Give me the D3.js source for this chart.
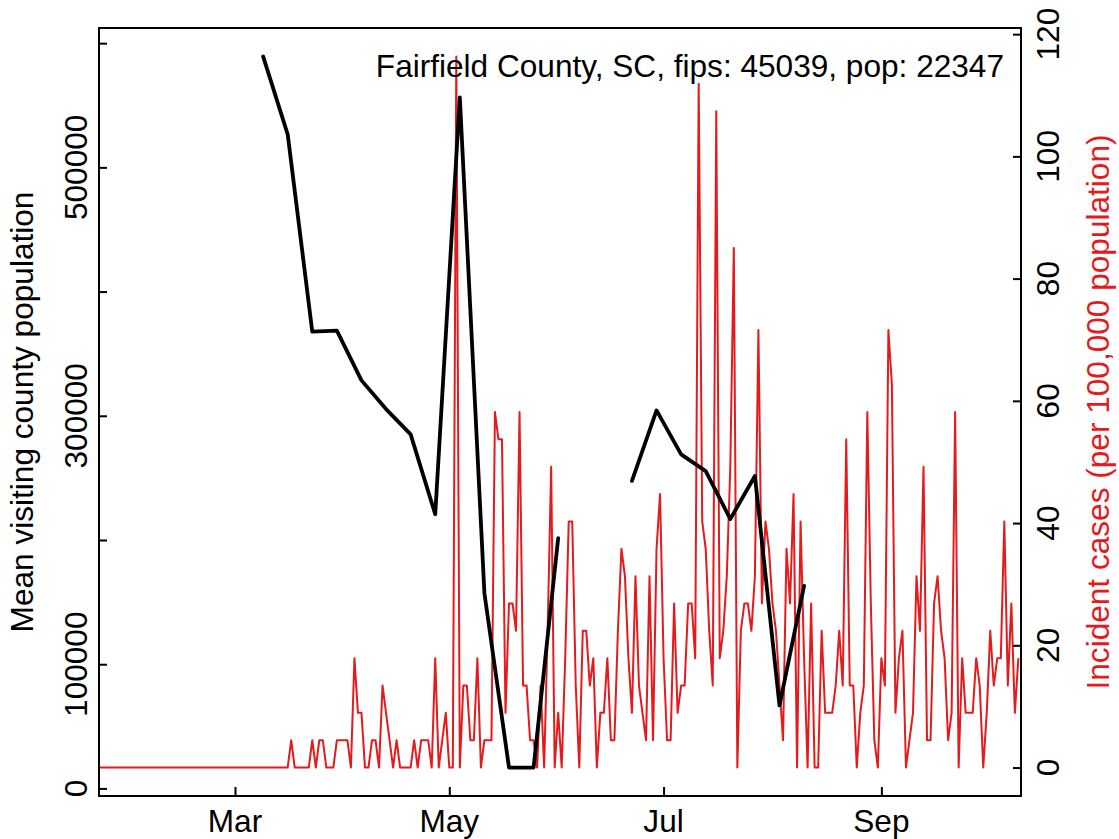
<!DOCTYPE html>
<html>
<head>
<meta charset="utf-8">
<script src="https://cdn.jsdelivr.net/npm/d3@7"></script>
<style>
  html, body { margin: 0; padding: 0; background: #fff; }
  text { font-family: "Liberation Sans", Arial, Helvetica, sans-serif; }
</style>
</head>
<body>
<svg id="chart" width="1119" height="839"></svg>
<script>
// ---------------- data ----------------
const titleText = "Fairfield County, SC, fips: 45039, pop: 22347";
const leftAxisTitle = "Mean visiting county population";
const rightAxisTitle = "Incident cases (per 100,000 population)";

// daily incident cases per 100,000, starting 2020-01-22
const incidentStart = "2020-01-22";
const incidentPer100k = [
  0,0,0,0,0,0,0,0,0,0, 0,0,0,0,0,0,0,0,0,0,
  0,0,0,0,0,0,0,0,0,0, 0,0,0,0,0,0,0,0,0,0,
  0,0,0,0,0,0,0,0,0,0, 0,0,0,0,0,4.47,0,0,0,0,
  0,4.47,0,4.47,4.47,0,0,0,4.47,4.47, 4.47,4.47,0,17.90,8.95,8.95,0,0,4.47,4.47,
  0,13.42,8.95,4.47,0,4.47,0,0,0,0, 4.47,0,4.47,4.47,4.47,0,17.90,0,4.47,8.95,
  0,0,116.35,0,13.42,13.42,4.47,4.47,17.90,0, 4.47,4.47,4.47,58.17,53.70,53.70,8.95,26.85,26.85,22.37,
  58.17,13.42,13.42,4.47,4.47,0,13.42,0,22.37,49.22, 0,8.95,0,17.90,40.27,40.27,13.42,0,22.37,22.37,
  13.42,17.90,0,8.95,8.95,17.90,4.47,4.47,22.37,35.80, 31.32,17.90,8.95,31.32,13.42,8.95,4.47,31.32,4.47,35.80,
  44.75,17.90,4.47,4.47,26.85,8.95,13.42,13.42,26.85,26.85, 17.90,111.87,40.27,35.80,22.37,13.42,107.40,17.90,22.37,31.32,
  49.22,85.02,0,22.37,26.85,26.85,22.37,31.32,71.60,26.85, 40.27,35.80,26.85,22.37,13.42,4.47,35.80,26.85,44.75,0,
  40.27,17.90,0,26.85,0,0,22.37,8.95,8.95,8.95, 13.42,22.37,13.42,53.70,13.42,13.42,0,8.95,13.42,58.17,
  26.85,4.47,0,17.90,13.42,71.60,62.65,8.95,17.90,22.37, 0,4.47,8.95,31.32,22.37,49.22,4.47,4.47,26.85,31.32,
  22.37,17.90,4.47,8.95,58.17,0,17.90,8.95,8.95,8.95, 17.90,13.42,0,8.95,22.37,13.42,17.90,17.90,40.27,13.42,
  26.85,8.95,17.90
];

// weekly mean visiting county population (null = missing week)
const visitDates = [
  "2020-03-09","2020-03-16","2020-03-23","2020-03-30","2020-04-06","2020-04-13",
  "2020-04-20","2020-04-27","2020-05-04","2020-05-11","2020-05-18","2020-05-25",
  "2020-06-01","2020-06-08","2020-06-15","2020-06-22","2020-06-29","2020-07-06",
  "2020-07-13","2020-07-20","2020-07-27","2020-08-03","2020-08-10"
];
const visitValues = [
  589300, 526600, 367700, 368500, 328500, 305400,
  285000, 220700, 556300, 157200, 16800, 16800,
  201500, null, null, 247600, 304300, 268900,
  255400, 216900, 251500, 66800, 163000
];

const xTickDates = ["2020-03-01","2020-05-01","2020-07-01","2020-09-01"];
const xTickLabels = ["Mar","May","Jul","Sep"];
const leftTicks = [0,100000,200000,300000,400000,500000,600000];
const leftTickLabels = ["0","100000","","300000","","500000",""];
const rightTicks = [0,20,40,60,80,100,120];

// ---------------- layout ----------------
const box = {left: 99, right: 1021, top: 28, bottom: 796};
const FONT = 31.6;
const RED = "#E41A1C";
const parse = d3.utcParse("%Y-%m-%d");
const DAY = 86400000;

const start = parse(incidentStart);
const redData = incidentPer100k.map((v, i) => ({date: new Date(start.getTime() + i * DAY), v}));
const blackData = visitDates.map((d, i) => ({date: parse(d), v: visitValues[i]}));

const x = d3.scaleUtc()
  .domain([start, new Date(start.getTime() + 262.75 * DAY)])
  .range([98, box.right]);

function padded(ext) { const r = ext[1] - ext[0]; return [ext[0] - 0.04 * r, ext[1] + 0.04 * r]; }
const yL = d3.scaleLinear()
  .domain(padded(d3.extent(visitValues.filter(v => v != null))))
  .range([box.bottom, box.top]);
const yR = d3.scaleLinear()
  .domain(padded(d3.extent(incidentPer100k)))
  .range([box.bottom, box.top]);

const svg = d3.select("#chart");
svg.append("rect").attr("width", 1119).attr("height", 839).attr("fill", "#fff");

svg.append("defs").append("clipPath").attr("id", "clip")
  .append("rect").attr("x", box.left).attr("y", box.top)
  .attr("width", box.right - box.left).attr("height", box.bottom - box.top);

const plot = svg.append("g").attr("clip-path", "url(#clip)");

// red incident line
plot.append("path")
  .datum(redData)
  .attr("fill", "none")
  .attr("stroke", RED)
  .attr("stroke-width", 2)
  .attr("stroke-linejoin", "round")
  .attr("d", d3.line().x(d => x(d.date)).y(d => yR(d.v)));

// black visiting line
plot.append("path")
  .datum(blackData)
  .attr("fill", "none")
  .attr("stroke", "#000")
  .attr("stroke-width", 3.8)
  .attr("stroke-linejoin", "round")
  .attr("stroke-linecap", "round")
  .attr("d", d3.line().defined(d => d.v != null).x(d => x(d.date)).y(d => yL(d.v)));

// axes (ticks point inward, R-style)
const TL = 8;
const gL = svg.append("g").attr("transform", `translate(${box.left},0)`)
  .call(d3.axisLeft(yL).tickValues(leftTicks).tickSizeInner(-TL).tickSizeOuter(0).tickFormat(""));
const gR = svg.append("g").attr("transform", `translate(${box.right},0)`)
  .call(d3.axisRight(yR).tickValues(rightTicks).tickSizeInner(-TL).tickSizeOuter(0).tickFormat(""));
const gB = svg.append("g").attr("transform", `translate(0,${box.bottom})`)
  .call(d3.axisBottom(x).tickValues(xTickDates.map(parse)).tickSizeInner(-TL - 1).tickSizeOuter(0).tickFormat(""));
[gL, gR, gB].forEach(g => {
  g.select(".domain").remove();
  g.selectAll(".tick line").attr("stroke", "#000").attr("stroke-width", 2);
});

// box
svg.append("rect")
  .attr("x", box.left).attr("y", box.top)
  .attr("width", box.right - box.left).attr("height", box.bottom - box.top)
  .attr("fill", "none").attr("stroke", "#000").attr("stroke-width", 2);

// tick labels
leftTicks.forEach((t, i) => {
  if (!leftTickLabels[i]) return;
  svg.append("text")
    .attr("transform", `translate(87,${yL(t)}) rotate(-90)`)
    .attr("text-anchor", "middle")
    .attr("font-size", FONT)
    .text(leftTickLabels[i]);
});
rightTicks.forEach(t => {
  svg.append("text")
    .attr("transform", `translate(1059,${yR(t)}) rotate(-90)`)
    .attr("text-anchor", "middle")
    .attr("font-size", FONT)
    .text(t);
});
xTickDates.forEach((d, i) => {
  svg.append("text")
    .attr("x", x(parse(d))).attr("y", 832)
    .attr("text-anchor", "middle")
    .attr("font-size", FONT)
    .text(xTickLabels[i]);
});

// axis titles
svg.append("text")
  .attr("transform", `translate(33,${(box.top + box.bottom) / 2}) rotate(-90)`)
  .attr("text-anchor", "middle").attr("font-size", FONT)
  .text(leftAxisTitle);
svg.append("text")
  .attr("transform", `translate(1109,${(box.top + box.bottom) / 2}) rotate(-90)`)
  .attr("text-anchor", "middle").attr("font-size", FONT).attr("fill", RED)
  .text(rightAxisTitle);

// title/legend text
svg.append("text")
  .attr("x", 1004).attr("y", 77)
  .attr("text-anchor", "end").attr("font-size", FONT)
  .text(titleText);
</script>
</body>
</html>
